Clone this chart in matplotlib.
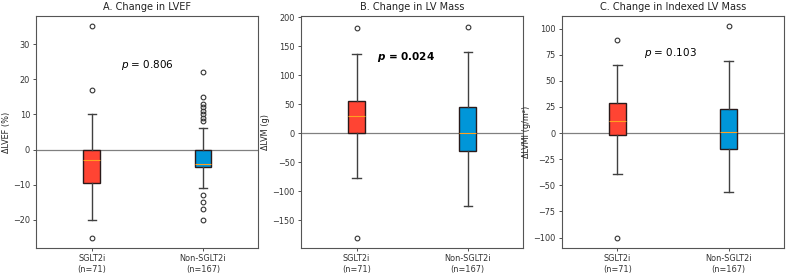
import matplotlib
matplotlib.use('Agg')
import matplotlib.pyplot as plt

# group labels
groups = ['SGLT2i\n(n=71)', 'Non-SGLT2i\n(n=167)']
colors = ['#ff4433', '#0096d9']

# box stats: whislo, q1, med, q3, whishi, fliers
lvef_sglt = [-20, -9.5, -3, 0, 10]
lvef_sglt_out = [35, 17, -25]
lvef_non = [-11, -5, -4, 0, 6]
lvef_non_out = [22, 15, 13, 12, 11, 10, 9, 8, -13, -15, -17, -20]

lvm_sglt = [-78, 0, 30, 56, 136]
lvm_sglt_out = [182, -180]
lvm_non = [-126, -30, 1, 45, 140]
lvm_non_out = [184]

lvmi_sglt = [-39, -2, 12, 29, 65]
lvmi_sglt_out = [89, -100]
lvmi_non = [-56, -15, 1, 23, 69]
lvmi_non_out = [102]

titles = ['A. Change in LVEF', 'B. Change in LV Mass', 'C. Change in Indexed LV Mass']
ylabels = ['ΔLVEF (%)', 'ΔLVM (g)', 'ΔLVMI (g/m²)']
pvals = ['0.806', '0.024', '0.103']
p_bold = [False, True, False]
p_pos = [(0.50, 0.79), (0.47, 0.825), (0.49, 0.84)]

panels = [
    [(lvef_sglt, lvef_sglt_out), (lvef_non, lvef_non_out)],
    [(lvm_sglt, lvm_sglt_out), (lvm_non, lvm_non_out)],
    [(lvmi_sglt, lvmi_sglt_out), (lvmi_non, lvmi_non_out)],
]

plt.rcParams['font.family'] = ['DejaVu Sans']
plt.rcParams['font.size'] = 5.8

fig = plt.figure(figsize=(7.88, 2.75), dpi=100)
lefts = [0.046, 0.382, 0.713]

for i, data in enumerate(panels):
    ax = fig.add_axes([lefts[i], 0.098, 0.282, 0.844])
    stats = []
    for (vals, out), lab in zip(data, groups):
        stats.append({'whislo': vals[0], 'q1': vals[1], 'med': vals[2],
                      'q3': vals[3], 'whishi': vals[4], 'fliers': out, 'label': lab})
    bp = ax.bxp(stats, widths=0.15, patch_artist=True,
                boxprops=dict(edgecolor='#2a1a1a', linewidth=1.0),
                whiskerprops=dict(color='#404040', linewidth=1.0),
                capprops=dict(color='#404040', linewidth=1.0),
                medianprops=dict(color='#ffa020', linewidth=0.8),
                flierprops=dict(marker='o', markersize=3.4, markerfacecolor='none',
                                markeredgecolor='#333333', markeredgewidth=0.8))
    for patch, c in zip(bp['boxes'], colors):
        patch.set_facecolor(c)
    ax.axhline(0, color='gray', linewidth=0.9, zorder=0.5)
    ax.set_title(titles[i], fontsize=7.0, pad=4, color='#222222')
    ax.set_ylabel(ylabels[i], fontsize=5.9, color='#222222', labelpad=1.5)
    ax.tick_params(labelsize=5.9, colors='#333333', length=2.5, width=0.6, pad=2)
    for s in ax.spines.values():
        s.set_color('#555555')
        s.set_linewidth(0.8)
    label = r'$\boldsymbol{p}$ = ' + pvals[i] if p_bold[i] else '$p$ = ' + pvals[i]
    ax.text(p_pos[i][0], p_pos[i][1], label,
            transform=ax.transAxes, ha='center', va='center', fontsize=7.5,
            fontweight='bold' if p_bold[i] else 'normal')

fig.savefig('out.png', dpi=100)
